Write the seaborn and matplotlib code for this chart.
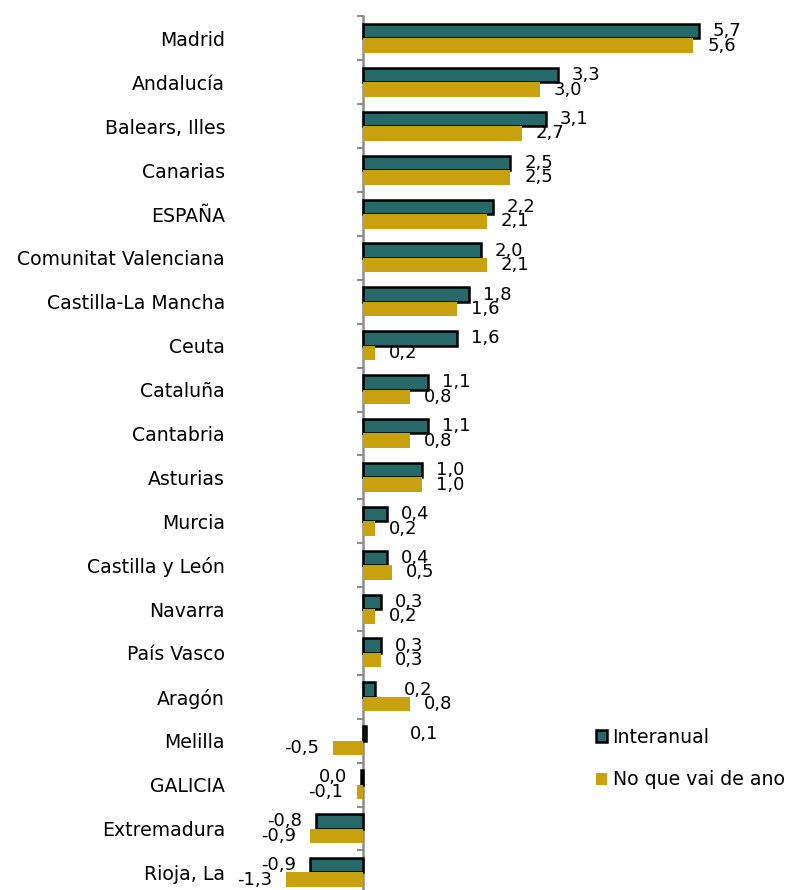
import numpy as np
import pandas as pd
import seaborn as sns
import matplotlib.pyplot as plt

# -------------------------
# data
# -------------------------
regions = ['Madrid', 'Andalucía', 'Balears, Illes', 'Canarias', 'ESPAÑA',
           'Comunitat Valenciana', 'Castilla-La Mancha', 'Ceuta', 'Cataluña',
           'Cantabria', 'Asturias', 'Murcia', 'Castilla y León', 'Navarra',
           'País Vasco', 'Aragón', 'Melilla', 'GALICIA', 'Extremadura', 'Rioja, La']
interanual = [5.7, 3.3, 3.1, 2.5, 2.2, 2.0, 1.8, 1.6, 1.1, 1.1,
              1.0, 0.4, 0.4, 0.3, 0.3, 0.2, 0.06, -0.04, -0.8, -0.9]
no_que_vai = [5.6, 3.0, 2.7, 2.5, 2.1, 2.1, 1.6, 0.2, 0.8, 0.8,
              1.0, 0.2, 0.5, 0.2, 0.3, 0.8, -0.5, -0.1, -0.9, -1.3]
series = ['Interanual', 'No que vai de ano']

df = pd.DataFrame({
    'region': regions * 2,
    'value': interanual + no_que_vai,
    'series': [series[0]] * len(regions) + [series[1]] * len(regions),
})

# -------------------------
# style
# -------------------------
sns.set_style('white')
plt.rcParams['font.family'] = ['DejaVu Sans']
plt.rcParams['text.color'] = 'black'
plt.rcParams['ytick.color'] = 'black'
fs = 13
fs_cat = 13.6

teal = '#276868'
gold = '#C9A10F'
axis_grey = '#8c8c8c'

fig = plt.figure(figsize=(7.87, 8.9), dpi=100)
ax = fig.add_axes([232 / 787, 0, 555 / 787, 873.5 / 890])

sns.barplot(data=df, y='region', x='value', hue='series', orient='h',
            palette=[teal, gold], width=0.66, saturation=1, ax=ax, legend=False)

# black outline only on the interanual bars
for bar in ax.containers[0]:
    bar.set_edgecolor('black')
    bar.set_linewidth(1.8)
for bar in ax.containers[1]:
    bar.set_edgecolor('none')

xmin, xmax = -2.22, 7.19
ax.set_xlim(xmin, xmax)
ax.set_ylim(19.4, -0.5)

# value labels, comma as decimal separator
def fmt(v):
    s = f'{v:.1f}'.replace('.', ',')
    return '0,0' if s == '-0,0' else s

nudges = {(0, 'Melilla'): 31, (0, 'Aragón'): 21}
for k, cont in enumerate(ax.containers):
    vals = interanual if k == 0 else no_que_vai
    texts = ax.bar_label(cont, labels=[fmt(v) for v in vals], padding=10,
                         fontsize=fs, color='black')
    for reg, t in zip(regions, texts):
        if (k, reg) in nudges:
            t.xyann = (nudges[(k, reg)], t.xyann[1])

# zero axis with ticks between categories
ax.tick_params(axis='y', length=0, pad=5, labelsize=fs_cat, labelcolor='black')
ax.set_ylabel('')
ax.set_xlabel('')
ax.set_xticks([])
for s in ax.spines.values():
    s.set_visible(False)

zero = ax.secondary_yaxis((0 - xmin) / (xmax - xmin))
zero.set_yticks(np.arange(-0.5, len(regions), 1))
zero.set_yticklabels([])
zero.tick_params(axis='y', direction='out', length=4, width=1.5, color=axis_grey)
zero.spines['left'].set_color(axis_grey)
zero.spines['left'].set_linewidth(1.8)
for side in ['right', 'top', 'bottom']:
    zero.spines[side].set_visible(False)

# legend
handles = [plt.Rectangle((0, 0), 1, 1, facecolor=teal, edgecolor='black', linewidth=1.8),
           plt.Rectangle((0, 0), 1, 1, facecolor=gold, edgecolor='none')]
fig.legend(handles, series, loc='upper left', bbox_to_anchor=(588 / 787, 1 - 720 / 890),
           frameon=False, handlelength=0.6, handleheight=0.6, handletextpad=0.3,
           labelspacing=1.25, fontsize=fs_cat, borderaxespad=0, labelcolor='black')

fig.savefig('out.png', dpi=100)
